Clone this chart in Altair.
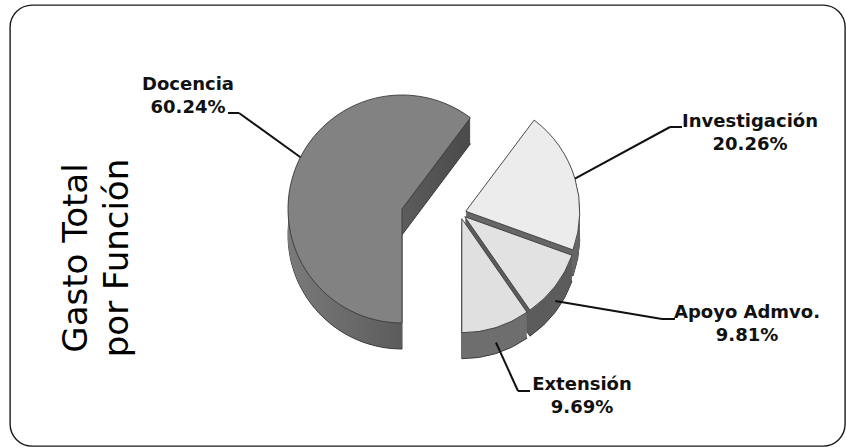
import altair as alt
import pandas as pd

# ---------------- data ----------------
categories = ["Docencia", "Investigación", "Apoyo Admvo.", "Extensión"]
values = [60.24, 20.26, 9.81, 9.69]
title_lines = ["Gasto Total", "por Función"]

# ---------------- layout / style (page pixels) ----------------
OX, OY = 10, 5            # view origin (padding)
W, H = 835, 441           # view size (rounded frame)
R = 114                   # pie radius
DEPTH = 26                # extrusion depth (fake 3D)
CX, CY = 402, 209         # pie centre
shift = {"Docencia": (0, 0), "Investigación": (58, 4), "Apoyo Admvo.": (58, 4), "Extensión": (58, 4)}
explode = {"Docencia": 0, "Investigación": 6, "Apoyo Admvo.": 6, "Extensión": 6}
label_xy = {"Docencia": (188, 90), "Investigación": (750, 127), "Apoyo Admvo.": (747, 318), "Extensión": (582, 390)}
elbow = {"Docencia": (239, 113), "Investigación": (670, 127), "Apoyo Admvo.": (662, 319), "Extensión": (518, 391)}
tip_x = {"Docencia": 228, "Investigación": 682, "Apoyo Admvo.": 675, "Extensión": 530}
drop = {"Docencia": 0, "Investigación": 0, "Apoyo Admvo.": 15, "Extensión": 15}
anchor_turn = {"Docencia": 0.15, "Investigación": 0.0, "Apoyo Admvo.": 0.0, "Extensión": 0.0}

top_colors = {"Docencia": "#828282", "Investigación": "#ececec", "Apoyo Admvo.": "#e2e2e2", "Extensión": "#e0e0e0"}
side_colors = {"Docencia": "#5c5c5c", "Investigación": "#676767", "Apoyo Admvo.": "#5d5d5d", "Extensión": "#6f6f6f"}
doc_side = alt.Gradient(
    gradient="linear", x1=0, x2=1, y1=0, y2=0,
    stops=[alt.GradientStop(color="#7a7a7a", offset=0),
           alt.GradientStop(color="#4a4a4a", offset=1)],
)

df = pd.DataFrame({"cat": categories, "value": values, "order": list(range(len(categories)))})
df["sx"] = [shift[c][0] for c in categories]
df["sy"] = [shift[c][1] for c in categories]
df["ex"] = [explode[c] for c in categories]
df["lx"] = [label_xy[c][0] - OX for c in categories]
df["ly"] = [label_xy[c][1] - OY for c in categories]
df["elbx"] = [elbow[c][0] - OX for c in categories]
df["elby"] = [elbow[c][1] - OY for c in categories]
df["tipx"] = [tip_x[c] - OX for c in categories]
df["drop"] = [drop[c] for c in categories]
df["turn"] = [anchor_turn[c] for c in categories]
df["topc"] = [top_colors[c] for c in categories]
df["sidec"] = [side_colors[c] for c in categories]

base = (
    alt.Chart(df)
    .transform_joinaggregate(total="sum(value)")
    .transform_window(cum="sum(value)", sort=[alt.SortField("order")], frame=[None, 0])
    .transform_calculate(t0="PI + 2*PI*(datum.cum - datum.value)/datum.total")
    .transform_calculate(t1="PI + 2*PI*datum.cum/datum.total")
    .transform_calculate(mid="(datum.t0 + datum.t1)/2")
    .transform_calculate(cx=f"{CX - OX} + datum.sx + datum.ex*sin(datum.mid)")
    .transform_calculate(cy=f"{CY - OY} + datum.sy - datum.ex*cos(datum.mid)")
    .transform_calculate(am="datum.mid + datum.turn")
    .transform_calculate(ax=f"datum.cx + {R}*sin(datum.am)")
    .transform_calculate(ay=f"datum.cy - {R}*cos(datum.am) + datum.drop")
    .transform_calculate(label="datum.cat + '\\n' + format(datum.value, '.2f') + '%'")
)

arc_enc = dict(
    theta=alt.Theta("t0:Q", scale=None, stack=None),
    theta2=alt.Theta2("t1:Q"),
    x=alt.X("cx:Q", scale=None, axis=None),
    y=alt.Y("cy:Q", scale=None, axis=None),
)

side_color = alt.condition(
    alt.datum.cat == "Docencia",
    alt.value(doc_side),
    alt.Color("sidec:N", scale=None),
)

layers = []
for d in range(DEPTH, 0, -1):
    if d == DEPTH:
        m = base.mark_arc(radius=R, yOffset=d, stroke="#2e2e2e", strokeWidth=0.9)
    else:
        m = base.mark_arc(radius=R, yOffset=d, strokeWidth=0)
    layers.append(m.encode(color=side_color, **arc_enc))

top = base.mark_arc(radius=R, stroke="#3a3a3a", strokeWidth=0.9).encode(
    color=alt.Color("topc:N", scale=None),
    **arc_enc,
)
layers.append(top)

leader1 = base.mark_rule(color="#111111", strokeWidth=2).encode(
    x=alt.X("ax:Q", scale=None, axis=None),
    y=alt.Y("ay:Q", scale=None, axis=None),
    x2="elbx:Q",
    y2="elby:Q",
)
leader2 = base.mark_rule(color="#111111", strokeWidth=2).encode(
    x=alt.X("elbx:Q", scale=None, axis=None),
    y=alt.Y("elby:Q", scale=None, axis=None),
    x2="tipx:Q",
    y2="elby:Q",
)
labels = base.mark_text(
    font="DejaVu Sans", fontWeight="bold", fontSize=18, lineHeight=23,
    align="center", baseline="alphabetic", lineBreak="\n", color="#111111",
).encode(
    x=alt.X("lx:Q", scale=None, axis=None),
    y=alt.Y("ly:Q", scale=None, axis=None),
    text="label:N",
)
layers += [leader1, leader2, labels]

title = alt.Chart(pd.DataFrame({"t": ["\n".join(title_lines)]})).mark_text(
    font="DejaVu Sans", fontSize=34, lineHeight=41, angle=270,
    align="center", baseline="alphabetic", lineBreak="\n", color="#000000",
).encode(
    x=alt.value(87 - OX),
    y=alt.value(258 - OY),
    text="t:N",
)
layers.append(title)

chart = (
    alt.layer(*layers)
    .properties(
        width=W, height=H,
        padding={"left": OX, "top": OY, "right": 1, "bottom": 2},
        autosize=alt.AutoSizeParams(type="none"),
        background="white",
    )
    .configure_view(stroke="#1a1a1a", strokeWidth=1.4, cornerRadius=22)
)

chart.save("out.html", embed_options={"renderer": "svg", "actions": False})
